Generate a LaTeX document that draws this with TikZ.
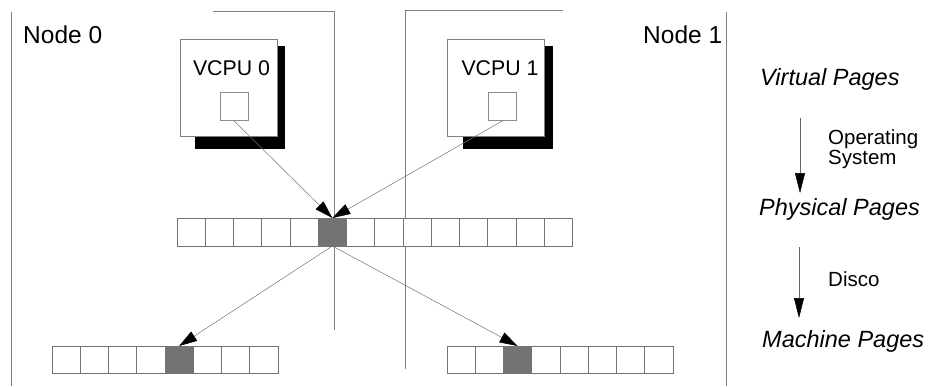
\documentclass[tikz,border=0pt]{standalone}
\usepackage{fontspec}
\setmainfont{Liberation Sans}
\usetikzlibrary{arrows.meta,positioning}

\begin{document}
\begin{tikzpicture}[x=1pt, y=-1pt,
    page/.style={draw=black!55, line width=0.6pt, minimum width=28.25pt, minimum height=28pt, inner sep=0pt, outer sep=0pt, anchor=west},
    vcpu/.style={draw=black!50, line width=0.6pt, fill=white, minimum width=97pt, minimum height=97pt, inner sep=0pt},
    shadow/.style={fill=black, minimum width=90pt, minimum height=103pt, inner sep=0pt},
    slot/.style={draw=black!45, line width=0.6pt, minimum size=28pt, inner sep=0pt},
    region/.style={draw=black!50, line width=0.5pt},
    map/.style={draw=black!55, line width=0.5pt, -{Triangle[length=18pt, width=11pt, color=black]}},
    xlate/.style={draw=black!60, line width=0.5pt, -{Triangle[length=20pt, width=10pt, color=black]}},
    nlbl/.style={font=\fontsize{24.5}{28}\selectfont, anchor=base west, inner sep=0pt},
    cpulbl/.style={font=\fontsize{21.3}{24}\selectfont, anchor=base, inner sep=0pt},
    lvl/.style={font=\fontsize{23.5}{26}\selectfont\itshape, anchor=base west, inner sep=0pt},
    via/.style={font=\fontsize{20.5}{20}\selectfont, align=left, inner sep=0pt}
]
\useasboundingbox (0,0) rectangle (930,386);
\def\cw{28.25}

% node borders
\draw[region] (11,12) -- (11,386);
\draw[region] (213,11) -- (334,11) -- (334,330);
\draw[region] (405,369) -- (405,10) -- (563,10);
\draw[region] (726,12) -- (726,386);

\node[nlbl] (n0) at (23,43) {Node 0};
\node[nlbl] (n1) at (643,43) {Node 1};

% virtual cpus
\node[shadow] (v0s) at (240,97.5) {};
\node[vcpu] (v0) at (229,87.5) {};
\node[cpulbl] (v0t) at (231.5,75) {VCPU 0};
\node[slot] (v0in) at (234,106.5) {};

\node[shadow] (v1s) at (507.5,97.5) {};
\node[vcpu] (v1) at (496,87.5) {};
\node[cpulbl] (v1t) at (500,75) {VCPU 1};
\node[slot] (v1in) at (502.5,106.5) {};

% physical pages
\foreach \i in {0,...,13}{
  \pgfmathtruncatemacro\g{\i==5 ? 55 : 0}
  \node[page, fill=black!\g] (p\i) at (177+\cw*\i, 232) {};
}

% machine pages
\foreach \i in {0,...,7}{
  \pgfmathtruncatemacro\g{\i==4 ? 55 : 0}
  \node[page, fill=black!\g, minimum height=27pt] (ml\i) at (52+\cw*\i, 359.5) {};
  \pgfmathtruncatemacro\g{\i==2 ? 55 : 0}
  \node[page, fill=black!\g, minimum height=27pt] (mr\i) at (447+\cw*\i, 359.5) {};
}

\draw[map] (v0in.south) -- (p5.north);
\draw[map] (v1in.south) -- (p5.north);
\draw[map] (p5.south) -- (ml4.north);
\draw[map] (p5.south) -- (mr2.north);

% levels
\node[lvl] (virt) at (760,85) {Virtual Pages};
\node[lvl] (phys) at (759,215) {Physical Pages};
\node[lvl] (mach) at (762,347) {Machine Pages};
\node[via, anchor=north west] (os) at (828,129.5) {Operating\\System};
\node[via, anchor=base west] (disco) at (828,286) {Disco};

\coordinate (os0) at (800,118);
\coordinate (os1) at (800,193);
\coordinate (dc0) at (799,247);
\coordinate (dc1) at (799,318);
\draw[xlate] (os0) -- (os1);
\draw[xlate] (dc0) -- (dc1);

\end{tikzpicture}
\end{document}
